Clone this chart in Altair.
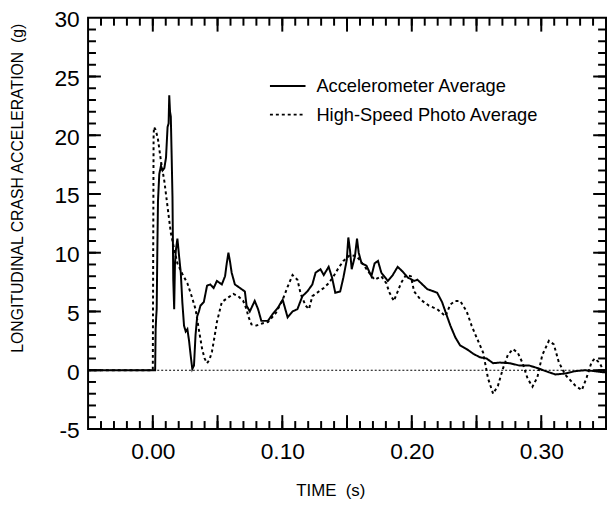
import altair as alt
import pandas as pd
import numpy as np

# ---------------- data ----------------
series_names = ["Accelerometer Average", "High-Speed Photo Average"]

accel_t = [
    -0.05, 0.0, 0.0018, 0.0022, 0.0026, 0.003, 0.0035, 0.004, 0.005, 0.0063,
    0.0075, 0.0089, 0.0102, 0.0114, 0.0122, 0.0127, 0.0133, 0.0139, 0.0146, 0.0152,
    0.0158, 0.0165, 0.0171, 0.0178, 0.019, 0.0203, 0.0216, 0.0228, 0.0241, 0.0254,
    0.0267, 0.028, 0.0292, 0.0305, 0.0318, 0.033, 0.0343, 0.0356, 0.0368, 0.0394,
    0.0419, 0.0444, 0.047, 0.0495, 0.0533, 0.0558, 0.0571, 0.0584, 0.0597, 0.0609,
    0.0634, 0.0673, 0.0711, 0.0724, 0.0749, 0.0787, 0.0813, 0.0838, 0.0889, 0.0927,
    0.0965, 0.1003, 0.1041, 0.1079, 0.1117, 0.1155, 0.1193, 0.1232, 0.1257, 0.1295,
    0.132, 0.1358, 0.1384, 0.1409, 0.1447, 0.1472, 0.1498, 0.151, 0.1523, 0.1536,
    0.1561, 0.1577, 0.159, 0.1612, 0.165, 0.1688, 0.1713, 0.1739, 0.1765, 0.1815,
    0.1853, 0.1891, 0.1929, 0.1968, 0.2018, 0.2044, 0.2082, 0.212, 0.2171, 0.2196,
    0.2234, 0.2272, 0.2298, 0.2336, 0.2374, 0.2424, 0.2475, 0.2526, 0.2577, 0.2628,
    0.2679, 0.2755, 0.2831, 0.2907, 0.2983, 0.3034, 0.311, 0.3186, 0.3262, 0.3338,
    0.3414, 0.35,
]
accel_g = [
    0, 0, 0, 3.5, 4.5, 5.2, 10.2, 14.4, 16.7, 17.4,
    17.0, 17.2, 18.1, 20.7, 21.0, 23.4, 22.0, 21.6, 18.0, 14.7,
    7.7, 5.2, 9.0, 10.2, 11.2, 9.7, 8.3, 5.8, 3.8, 3.3,
    3.5, 2.5, 1.3, 0.1, 0.4, 3.0, 4.6, 5.0, 5.5, 5.8,
    7.2, 7.3, 7.0, 7.6, 7.3, 8.0, 9.1, 10.0, 9.2, 8.3,
    7.3, 7.0, 6.7, 5.5, 5.0, 5.9, 5.2, 4.2, 4.2, 4.8,
    5.3, 6.0, 4.5, 5.0, 5.2, 6.3, 6.7, 7.3, 8.3, 8.6,
    8.1, 8.8, 7.9, 6.6, 6.7, 7.9, 9.4, 11.3, 10.2, 8.6,
    9.7, 11.2, 10.0, 9.1, 8.9, 8.0, 9.1, 9.3, 8.3, 7.6,
    8.1, 8.8, 8.4, 7.9, 7.6, 7.7, 7.3, 6.9, 6.7, 6.6,
    5.8, 4.6, 3.8, 2.8, 2.1, 1.8, 1.4, 1.1, 1.0, 0.6,
    0.65, 0.6, 0.4, 0.4, 0.14, -0.08, -0.36, -0.28, -0.08, 0.0,
    -0.08, -0.2,
]

photo_t = [
    -0.05, 0.0, 0.0003, 0.0006, 0.0009, 0.002, 0.0038, 0.0063, 0.0089, 0.0114,
    0.0139, 0.0165, 0.019, 0.0228, 0.0267, 0.03, 0.033, 0.0355, 0.0381, 0.04,
    0.0419, 0.0438, 0.0457, 0.0476, 0.0495, 0.0533, 0.0584, 0.0622, 0.066, 0.0698,
    0.0724, 0.0737, 0.0762, 0.08, 0.085, 0.0889, 0.0952, 0.1003, 0.1041, 0.1079,
    0.1117, 0.1142, 0.118, 0.1206, 0.1232, 0.1282, 0.132, 0.1358, 0.1396, 0.1434,
    0.1472, 0.1523, 0.1574, 0.1625, 0.1663, 0.1713, 0.1765, 0.1803, 0.1828, 0.1861,
    0.1891, 0.1916, 0.1955, 0.1993, 0.2018, 0.2069, 0.2132, 0.2196, 0.226, 0.2298,
    0.2336, 0.2374, 0.2424, 0.2462, 0.25, 0.2551, 0.2589, 0.2628, 0.2666, 0.2704,
    0.2742, 0.278, 0.2818, 0.2856, 0.2894, 0.2932, 0.297, 0.3008, 0.3059, 0.3097,
    0.3135, 0.3186, 0.3262, 0.3313, 0.3351, 0.3389, 0.3414, 0.3452, 0.349,
]
photo_g = [
    0, 0, 10.0, 19.8, 20.7, 20.5, 19.8, 17.8, 16.1, 13.9,
    11.7, 10.3, 9.1, 8.2, 7.4, 6.3, 5.2, 3.5, 1.8, 1.0,
    0.6, 0.9, 1.6, 2.8, 4.1, 5.8, 6.2, 6.5, 6.3, 5.9,
    5.2, 4.6, 3.9, 3.8, 4.0, 4.1, 4.9, 6.0, 7.1, 8.1,
    7.7, 6.5, 5.5, 5.2, 6.3, 6.7, 7.0, 7.4, 8.0, 8.7,
    9.3, 9.8, 9.7, 9.0, 8.4, 7.7, 8.0, 7.4, 6.6, 5.9,
    6.7, 7.4, 8.1, 8.0, 6.7, 6.0, 5.5, 5.2, 4.6, 5.6,
    5.9, 5.9, 5.0, 3.8, 2.8, 1.5, -0.7, -2.0, -1.3, 0.14,
    1.3, 1.8, 1.5, 0.6, -0.7, -1.4, -0.6, 1.3, 2.5, 2.2,
    0.7, -0.4, -1.3, -1.7, -0.6, 0.7, 1.0, 0.6, -0.28,
]

x_label_values = [0.0, 0.1, 0.2, 0.3]
y_label_values = [-5, 0, 5, 10, 15, 20, 25, 30]
x_major_ticks = [0.0, 0.05, 0.1, 0.15, 0.2, 0.25, 0.3]
x_minor_ticks = [round(v, 2) for v in np.arange(-0.04, 0.345, 0.01)]
y_major_ticks = [0, 5, 10, 15, 20, 25]
y_minor_ticks = [v for v in range(-4, 30)]

# ---------------- layout ----------------
W, H = 524, 416
FONT = "Liberation Sans"

xs = alt.Scale(domain=[-0.05, 0.35], nice=False, zero=False)
ys = alt.Scale(domain=[-5, 30], nice=False, zero=False)

df = pd.concat([
    pd.DataFrame({"t": accel_t, "g": accel_g, "series": series_names[0]}),
    pd.DataFrame({"t": photo_t, "g": photo_g, "series": series_names[1]}),
], ignore_index=True)
df["idx"] = range(len(df))

x_axis = alt.Axis(
    values=x_label_values, format=".2f", labelFontSize=23, labelFont=FONT,
    labelColor="black", labelPadding=12, ticks=False, tickSize=0, domain=False,
    grid=False, labelFlush=False, labelOverlap=False,
    title="TIME\u00a0\u00a0(s)", titleFont=FONT, titleFontSize=17,
    titleFontWeight="normal", titleColor="black", titleX=245, titleY=62,
    titleBaseline="middle", titleAlign="center",
)
y_axis = alt.Axis(
    values=y_label_values, labelExpr="'' + datum.value", labelFontSize=23,
    labelFont=FONT, labelColor="black", labelPadding=9, labelOffset=2,
    ticks=False, tickSize=0, domain=False, grid=False, labelOverlap=False,
    title="LONGITUDINAL CRASH ACCELERATION\u00a0\u00a0(g)", titleFont=FONT,
    titleFontSize=16, titleFontWeight="normal", titleColor="black",
    titleAngle=270, titleX=-71, titleY=172, titleBaseline="middle",
    titleAlign="center",
)

legend = alt.Legend(
    orient="none", legendX=183, legendY=50, title=None, symbolType="stroke",
    symbolSize=1296, symbolStrokeWidth=2, symbolStrokeColor="black",
    labelFontSize=18.5, labelFont=FONT, labelColor="black", labelOffset=10,
    labelLimit=400, rowPadding=-8, padding=0,
)

lines = alt.Chart(df).mark_line(color="black", strokeWidth=2).encode(
    x=alt.X("t:Q", scale=xs, axis=x_axis),
    y=alt.Y("g:Q", scale=ys, axis=y_axis),
    strokeDash=alt.StrokeDash(
        "series:N",
        scale=alt.Scale(domain=series_names, range=[[1, 0], [3, 3]]),
        legend=legend,
    ),
    order="idx:Q",
)

zero = alt.Chart(pd.DataFrame({"g": [0]})).mark_rule(
    color="black", strokeWidth=1.2, strokeDash=[2, 2]
).encode(y=alt.Y("g:Q", scale=ys, axis=y_axis))


def xticks(vals, length, top):
    d = pd.DataFrame({"t": vals})
    if top:
        return alt.Chart(d).mark_rule(color="black", strokeWidth=2).encode(
            x=alt.X("t:Q", scale=xs, axis=x_axis), y=alt.value(0), y2=alt.value(length))
    return alt.Chart(d).mark_rule(color="black", strokeWidth=2).encode(
        x=alt.X("t:Q", scale=xs, axis=x_axis), y=alt.value(H), y2=alt.value(H - length))


def yticks(vals, length, right):
    d = pd.DataFrame({"g": vals})
    if right:
        return alt.Chart(d).mark_rule(color="black", strokeWidth=2).encode(
            y=alt.Y("g:Q", scale=ys, axis=y_axis), x=alt.value(W), x2=alt.value(W - length))
    return alt.Chart(d).mark_rule(color="black", strokeWidth=2).encode(
        y=alt.Y("g:Q", scale=ys, axis=y_axis), x=alt.value(0), x2=alt.value(length))


chart = alt.layer(
    zero, lines,
    xticks(x_minor_ticks, 8, False), xticks(x_major_ticks, 14, False),
    xticks(x_minor_ticks, 8, True), xticks(x_major_ticks, 14, True),
    yticks(y_minor_ticks, 8, False), yticks(y_major_ticks, 13, False),
    yticks(y_minor_ticks, 8, True), yticks(y_major_ticks, 13, True),
).properties(
    width=W, height=H,
    background="white",
    autosize=alt.AutoSizeParams(type="none"),
    padding={"left": 81, "top": 7, "right": 1, "bottom": 70},
).configure_view(
    stroke="black", strokeWidth=2
)

chart.save("out.html", embed_options={"renderer": "svg", "actions": False})
